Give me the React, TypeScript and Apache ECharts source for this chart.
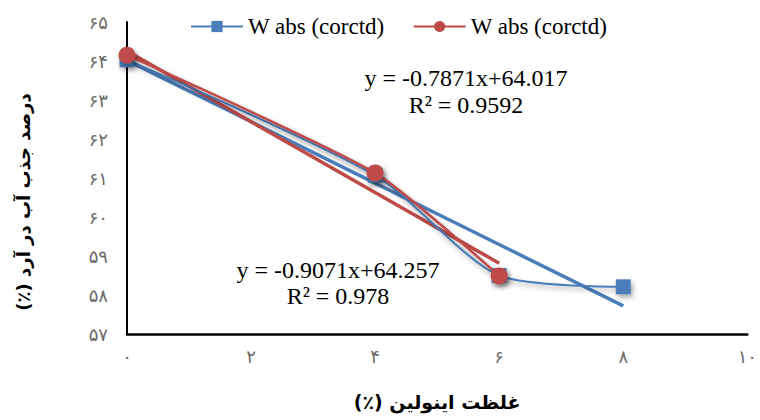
import React, { useEffect, useRef } from "react";
import * as echarts from "echarts";

const xTickLabels = ["۰", "۲", "۴", "۶", "۸", "۱۰"];
const yTickLabels = ["۵۷", "۵۸", "۵۹", "۶۰", "۶۱", "۶۲", "۶۳", "۶۴", "۶۵"];

const blueX = [0, 4, 6, 8];
const blueY = [64.03, 61.07, 58.5, 58.21];
const redX = [0, 4, 6];
const redY = [64.15, 61.13, 58.49];

const legendLabel = "W abs (corctd)";
const blueTrend = { slope: -0.7871, intercept: 64.017, from: 0, to: 8 };
const redTrend = { slope: -0.9071, intercept: 64.257, from: 0, to: 6 };
const blueEq = ["y = -0.7871x+64.017", "R² = 0.9592"];
const redEq = ["y = -0.9071x+64.257", "R² = 0.978"];

const RLM = "\u200F";
const yAxisName = "درصد جذب آب در آرد (٪)";
const xAxisName = "غلظت اینولین (٪)";

const BLUE = "#4a7ebb";
const RED = "#be4b48";

function trendPoints(t: { slope: number; intercept: number; from: number; to: number }) {
  return [
    [t.from, t.slope * t.from + t.intercept],
    [t.to, t.slope * t.to + t.intercept],
  ];
}

export default function App() {
  const ref = useRef<HTMLDivElement>(null);
  useEffect(() => {
    document.body.style.margin = "0";
    if (!ref.current) return;
    const chart = echarts.init(ref.current, undefined, { renderer: "svg" });
    const shadow = {
      shadowColor: "rgba(0,0,0,0.35)",
      shadowBlur: 5,
      shadowOffsetX: 2,
      shadowOffsetY: 3,
    };
    const serif = "Liberation Serif";
    const persian = "DejaVu Sans";
    const eqStyle = (text: string) => ({
      text,
      fontFamily: serif,
      fontSize: 24,
      fill: "#000",
      align: "center",
      verticalAlign: "middle",
    });
    const option: any = {
      animation: false,
      backgroundColor: "#ffffff",
      grid: { left: 127, right: 8, top: 22, bottom: 86, containLabel: false },
      legend: {
        data: ["blue", "red"],
        left: 185,
        top: 10,
        itemWidth: 52,
        itemHeight: 14,
        itemGap: 28,
        formatter: () => legendLabel,
        textStyle: { fontFamily: serif, fontSize: 23, color: "#000" },
      },
      xAxis: {
        type: "value",
        min: 0,
        max: 10,
        interval: 2,
        name: RLM + xAxisName + RLM,
        nameLocation: "middle",
        nameGap: 58,
        nameTextStyle: { fontFamily: persian, fontSize: 19, fontWeight: "bold", color: "#000" },
        axisLine: { show: true, lineStyle: { color: "#000", width: 2.5 } },
        axisTick: { show: false },
        splitLine: { show: false },
        axisLabel: {
          margin: 13,
          fontFamily: persian,
          fontSize: 18,
          color: "#6a6a6a",
          formatter: (v: number) => xTickLabels[Math.round(v / 2)] ?? "",
        },
      },
      yAxis: {
        type: "value",
        min: 57,
        max: 65,
        interval: 1,
        name: RLM + yAxisName + RLM,
        nameLocation: "middle",
        nameRotate: 90,
        nameGap: 95,
        nameTextStyle: {
          fontFamily: persian,
          fontSize: 18,
          fontWeight: "bold",
          color: "#000",
          padding: [0, 48, 0, 0],
        },
        axisLine: { show: true, lineStyle: { color: "#000", width: 2 } },
        axisTick: { show: false },
        splitLine: { show: false },
        axisLabel: {
          margin: 19,
          fontFamily: persian,
          fontSize: 18,
          color: "#6a6a6a",
          formatter: (v: number) => yTickLabels[Math.round(v - 57)] ?? "",
        },
      },
      series: [
        {
          name: "blueTrend",
          type: "line",
          data: trendPoints(blueTrend),
          showSymbol: false,
          symbol: "none",
          lineStyle: { color: BLUE, width: 3.5 },
          z: 2,
          silent: true,
        },
        {
          name: "redTrend",
          type: "line",
          data: trendPoints(redTrend),
          showSymbol: false,
          symbol: "none",
          lineStyle: { color: RED, width: 3.5 },
          z: 2,
          silent: true,
        },
        {
          name: "blue",
          type: "line",
          data: blueX.map((x, i) => [x, blueY[i]]),
          smooth: 0.25,
          symbol: "rect",
          symbolSize: 15,
          itemStyle: { color: BLUE, ...shadow },
          lineStyle: { color: BLUE, width: 2, ...shadow },
          z: 3,
        },
        {
          name: "red",
          type: "line",
          data: redX.map((x, i) => [x, redY[i]]),
          smooth: 0.2,
          symbol: "circle",
          symbolSize: 17,
          itemStyle: { color: RED, ...shadow },
          lineStyle: { color: RED, width: 2.5, ...shadow },
          z: 4,
        },
      ],
      graphic: [
        { type: "text", x: 466, y: 78, z: 10, style: eqStyle(blueEq[0]) },
        { type: "text", x: 466, y: 105, z: 10, style: eqStyle(blueEq[1]) },
        { type: "text", x: 338, y: 270, z: 10, style: eqStyle(redEq[0]) },
        { type: "text", x: 338, y: 296, z: 10, style: eqStyle(redEq[1]) },
      ],
    };
    chart.setOption(option);
    return () => chart.dispose();
  }, []);
  return <div ref={ref} style={{ width: 760, height: 420 }} />;
}
